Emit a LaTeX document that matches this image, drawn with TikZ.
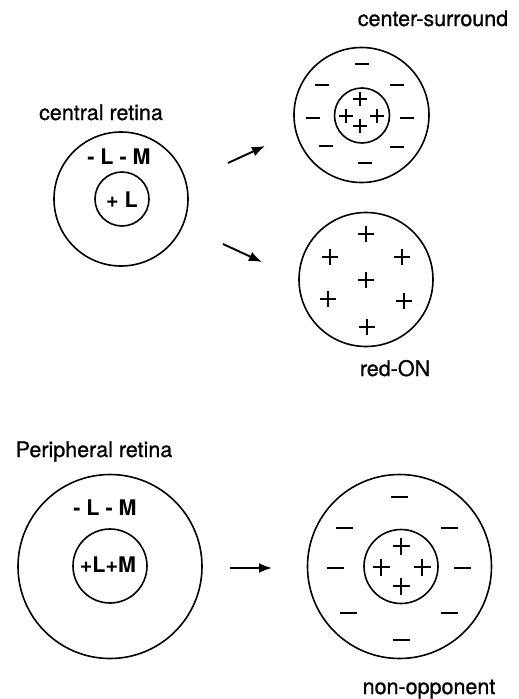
\documentclass[tikz,border=0pt]{standalone}
\usepackage{fontspec}
\setmainfont{TeX Gyre Heros}
\newfontfamily\labelfont[FakeBold=0.8]{TeX Gyre Heros}
\usetikzlibrary{arrows.meta}
\begin{document}
\begin{tikzpicture}[x=1pt,y=-1pt,
  ring/.style={draw, circle, line width=1.6pt, inner sep=0pt, minimum size=#1},
  signline/.style={line width=1.3pt},
  lbl/.style={anchor=base, inner sep=0pt, font=\fontsize{21.5}{24}\labelfont},
  cone/.style={anchor=base, inner sep=0pt, font=\fontsize{21.5}{24}\selectfont\bfseries},
  flow/.style={line width=1.9pt, -{Latex[length=13pt,width=10pt]}},
  pics/plussign/.style={code={\draw[signline] (-1,0)--(1,0) (0,-1)--(0,1);}},
  pics/minussign/.style={code={\draw[signline] (-1,0)--(1,0);}},
]
\useasboundingbox (0,0) rectangle (519,699);

% ---- central retina: L-centre, L+M surround
\node[lbl] (crlabel) at (101,120) {central retina};
\node[ring=134] (crout) at (121,199) {};
\node[ring=54] (crin) at (122,199) {};
\node[cone] (crsur) at (119,164) {- L - M};
\node[cone] (crcen) at (122,207) {+ L};

% ---- centre-surround field
\node[lbl] (cslabel) at (433,26) {center-surround};
\node[ring=135] (csout) at (361.5,115) {};
\node[ring=55] (csin) at (362,115.5) {};
\foreach \p in {(362,64),(322,85),(397,85),(313,118),(407,118),(326,146),(397,147),(365,163)}
  \pic[scale=6.8] at \p {minussign};
\foreach \p in {(360,99),(346,116),(377,116),(360,126)}
  \pic[scale=6.7] at \p {plussign};

% ---- red-ON field
\node[ring=134] (ron) at (366,279.5) {};
\foreach \p in {(366,234),(330,257),(402,257),(366,280),(328,299),(404,301),(367,327)}
  \pic[scale=8] at \p {plussign};
\node[lbl] (ronlabel) at (395,376) {red-ON};

% ---- peripheral retina: L+M centre, L+M surround
\node[lbl] (prlabel) at (94,457) {Peripheral retina};
\node[ring=184] (prout) at (110,566.5) {};
\node[ring=74] (prin) at (110,566) {};
\node[cone] (prsur) at (105,515) {- L - M};
\node[cone] (prcen) at (108,572) {+L+M};

% ---- non-opponent field
\node[ring=184] (noout) at (399.5,566.5) {};
\node[ring=74] (noin) at (401,566.5) {};
\foreach \p in {(399,497),(344,528),(449,528),(335,568),(462,568),(348,613),(449,613),(401,640)}
  \pic[scale=8.5] at \p {minussign};
\foreach \p in {(401,546),(381,567),(422,567),(401,586)}
  \pic[scale=8.5] at \p {plussign};
\node[lbl] (nolabel) at (429,694) {non-opponent};

% ---- arrows
\coordinate (a1s) at (228,163); \coordinate (a1e) at (265,146);
\coordinate (a2s) at (223,244); \coordinate (a2e) at (262,262);
\coordinate (a3s) at (230,568); \coordinate (a3e) at (272,568);
\draw[flow] (a1s) -- (a1e);
\draw[flow] (a2s) -- (a2e);
\draw[flow] (a3s) -- (a3e);
\end{tikzpicture}
\end{document}
